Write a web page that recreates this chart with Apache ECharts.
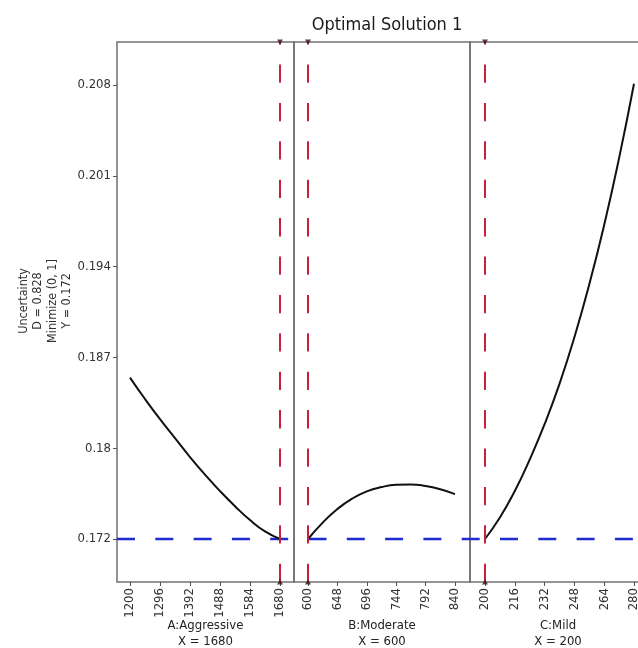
<!DOCTYPE html>
<html>
<head>
<meta charset="utf-8">
<script src="https://cdn.jsdelivr.net/npm/echarts@6/dist/echarts.min.js"></script>
<style>
    html, body { margin: 0; padding: 0; background: #fff; }
    #main { width: 638px; height: 648px; }
</style>
</head>
<body>
<div id="main"></div>
<script>
    // y axis ticks (evenly spaced, labels rounded as in the original)
    var yTickVals = [0.172, 0.1792, 0.1864, 0.1936, 0.2008, 0.208];
    var yTickLabels = ['0.172', '0.18', '0.187', '0.194', '0.201', '0.208'];
    var yMin = 0.16859, yMax = 0.21141;

    // x axis ticks per factor
    var aTicks = [1200, 1296, 1392, 1488, 1584, 1680];
    var bTicks = [600, 648, 696, 744, 792, 840];
    var cTicks = [200, 216, 232, 248, 264, 280];

    // response curves
    var aX = [1200, 1248, 1296, 1344, 1392, 1440, 1488, 1536, 1584, 1632, 1680];
    var aY = [0.1848, 0.1831, 0.1815, 0.1800, 0.1785, 0.1771, 0.1758, 0.1746, 0.1735, 0.1726, 0.1720];
    var bX = [600, 624, 648, 672, 696, 720, 744, 768, 792, 816, 840];
    var bY = [0.17200, 0.17330, 0.17438, 0.17520, 0.17578, 0.17612, 0.17630, 0.17633, 0.17620, 0.17594, 0.17556];
    var cX = [200, 208, 216, 224, 232, 240, 248, 256, 264, 272, 280];
    var cY = [0.1720, 0.1737, 0.1758, 0.1783, 0.1811, 0.1843, 0.1880, 0.1922, 0.1969, 0.2022, 0.2081];

    // optimal settings
    var factorNames = ['A:Aggressive', 'B:Moderate', 'C:Mild'];
    var optX = [1680, 600, 200];
    var optY = 0.172;

    var font = '"DejaVu Sans Condensed", "DejaVu Sans", sans-serif';

    // panel layout + axis ranges
    var panels = [
        { left: 117, width: 177, min: 1158.4, max: 1724.8, ticks: aTicks, xs: aX, ys: aY },
        { left: 294, width: 176, min: 577.1, max: 864.5, ticks: bTicks, xs: bX, ys: bY },
        { left: 470, width: 176, min: 191.95, max: 286.45, ticks: cTicks, xs: cX, ys: cY }
    ];

    var yLabel = function (v) {
        for (var k = 0; k < yTickVals.length; k++) {
            if (Math.abs(yTickVals[k] - v) < 1e-6) return yTickLabels[k];
        }
        return '';
    };

    var grids = [], xAxes = [], yAxes = [], series = [];
    panels.forEach(function (p, i) {
        grids.push({
            left: p.left, width: p.width, top: 42, bottom: 66,
            show: true, borderColor: '#707070', borderWidth: 1.5,
            outerBoundsMode: 'none'
        });
        xAxes.push({
            type: 'value', gridIndex: i, min: p.min, max: p.max,
            splitLine: { show: false },
            axisLine: { show: false },
            axisTick: { show: true, customValues: p.ticks, length: 4, lineStyle: { color: '#555' } },
            axisLabel: {
                customValues: p.ticks, rotate: 90, margin: 6, fontSize: 13, fontFamily: font, color: '#333',
                formatter: function (v) { return String(Math.round(v)); }
            },
            name: factorNames[i] + '\nX = ' + optX[i],
            nameLocation: 'middle', nameGap: 36, nameMoveOverlap: false,
            nameTextStyle: { fontSize: 13, lineHeight: 16, fontFamily: font, color: '#222' }
        });
        yAxes.push({
            type: 'value', gridIndex: i, min: yMin, max: yMax,
            splitLine: { show: false },
            axisLine: { show: false },
            axisTick: { show: i === 0, customValues: yTickVals, length: 4, lineStyle: { color: '#555' } },
            axisLabel: { show: i === 0, customValues: yTickVals, formatter: yLabel, margin: 6, fontSize: 13, fontFamily: font, color: '#333' }
        });
        series.push({
            type: 'line', xAxisIndex: i, yAxisIndex: i,
            data: p.xs.map(function (x, k) { return [x, p.ys[k]]; }),
            smooth: 0.5, symbol: 'none', z: 3,
            lineStyle: { color: '#111', width: 2 },
            markLine: {
                silent: true, symbol: 'none', label: { show: false },
                lineStyle: { color: '#c8203c', width: 2, type: [18.3, 20.1] },
                data: [[{ coord: [optX[i], yMin] }, { coord: [optX[i], yMax] }]]
            }
        });
        // little markers at the ends of the red line
        series.push({
            type: 'scatter', xAxisIndex: i, yAxisIndex: i, silent: true, clip: false, z: 5,
            symbol: 'triangle', symbolSize: [6, 5],
            itemStyle: { color: '#3a1010' },
            data: [{ value: [optX[i], yMax], symbolRotate: 180 }, { value: [optX[i], yMin] }]
        });
    });

    // overlay grid for the horizontal target line across all panels
    grids.push({ left: 117, width: 529, top: 42, bottom: 66, show: false, outerBoundsMode: 'none' });
    xAxes.push({ type: 'value', gridIndex: 3, min: 0, max: 1, show: false });
    yAxes.push({ type: 'value', gridIndex: 3, min: yMin, max: yMax, show: false });
    series.push({
        type: 'line', xAxisIndex: 3, yAxisIndex: 3, symbol: 'none', z: 2, silent: true,
        data: [[0, optY], [1, optY]],
        lineStyle: { color: '#1f2bd1', width: 2.6, type: [18, 20.3] }
    });

    var chart = echarts.init(document.getElementById('main'));
    chart.setOption({
        animation: false,
        backgroundColor: '#fff',
        title: {
            text: 'Optimal Solution 1',
            left: 382, top: 11, textAlign: 'center',
            textStyle: { fontSize: 18, fontWeight: 'normal', fontFamily: font, color: '#1a1a1a' }
        },
        graphic: [{
            type: 'text', x: 45, y: 301, rotation: Math.PI / 2,
            style: {
                text: 'Uncertainty\nD = 0.828\nMinimize (0, 1]\nY = 0.172',
                align: 'center', verticalAlign: 'middle', lineHeight: 14.5,
                fontSize: 12.5, fontFamily: font, fill: '#333'
            }
        }],
        grid: grids,
        xAxis: xAxes,
        yAxis: yAxes,
        series: series
    });
</script>
</body>
</html>
